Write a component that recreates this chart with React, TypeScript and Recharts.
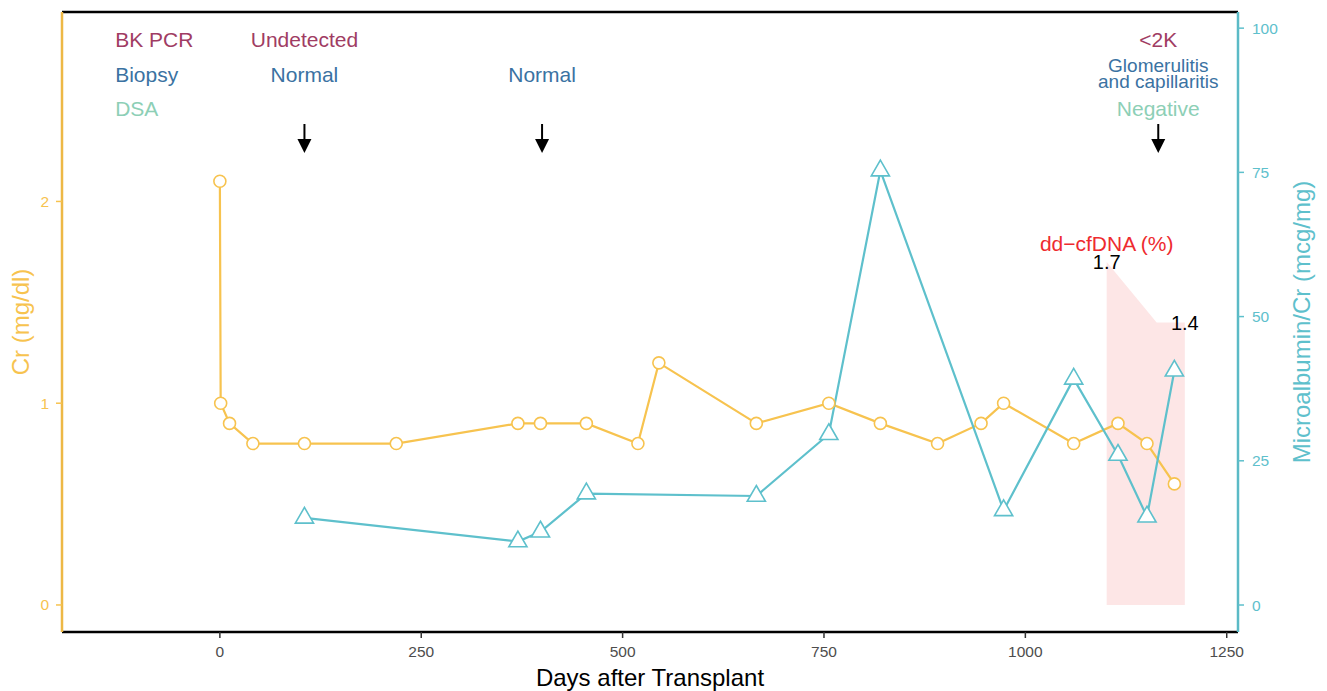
import React from 'react';
import { ComposedChart, Line, Area, XAxis, YAxis, ReferenceDot } from 'recharts';

// Cr (mg/dl) by day after transplant
const crDays = [0, 1, 12, 41, 105, 219, 370, 398, 455, 519, 545, 666, 756, 820, 891, 945, 973, 1060, 1115, 1151, 1185];
const crValues = [2.1, 1.0, 0.9, 0.8, 0.8, 0.8, 0.9, 0.9, 0.9, 0.8, 1.2, 0.9, 1.0, 0.9, 0.8, 0.9, 1.0, 0.8, 0.9, 0.8, 0.6];

// Microalbumin/Cr (mcg/mg)
const albDays = [105, 370, 398, 455, 666, 756, 820, 973, 1060, 1115, 1151, 1185];
const albValues = [15.1, 11.0, 12.7, 19.3, 18.9, 29.6, 75.3, 16.4, 39.2, 26.0, 15.3, 40.6];

// dd-cfDNA (%), drawn on the Cr scale
const cfDnaDays = [1101, 1163, 1198];
const cfDnaValues = [1.7, 1.4, 1.4];
const cfDnaLabels = ['1.7', '', '1.4'];

// biopsy annotations
const biopsyDays = [105, 400, 1165];
const bkPcr = ['Undetected', '', '<2K'];
const biopsyResult = ['Normal', 'Normal', ''];
const biopsyDetail = ['Glomerulitis', 'and capillaritis'];
const dsaResult = ['', '', 'Negative'];
const rowNames = ['BK PCR', 'Biopsy', 'DSA'];

const xTicks = [0, 250, 500, 750, 1000, 1250];
const crTicks = [0, 1, 2];
const albTicks = [0, 25, 50, 75, 100];

const ORANGE = '#F7C34F';
const TEAL = '#5EC0CC';
const BK = '#A03C63';
const BIOPSY = '#3A72A2';
const DSA = '#8DCFB6';
const FONT = '"Liberation Sans", Arial, Helvetica, sans-serif';

const crData = crDays.map((d, i) => ({ day: d, cr: crValues[i] }));
const albData = albDays.map((d, i) => ({ day: d, alb: albValues[i] }));
const cfData = cfDnaDays.map((d, i) => ({ day: d, cf: cfDnaValues[i] }));

const Tri = (p: any) => {
  const { cx, cy } = p;
  if (cx == null || cy == null) return null;
  return (
    <polygon
      key={`t${cx}`}
      points={`${cx},${cy - 10.5} ${cx + 9.1},${cy + 5.25} ${cx - 9.1},${cy + 5.25}`}
      fill="#fff"
      stroke={TEAL}
      strokeWidth={1.6}
    />
  );
};

const txt = (label: string, color: string, size: number, anchor = 'middle') => (p: any) => (
  <text x={p.cx} y={p.cy} fill={color} fontSize={size} textAnchor={anchor} fontFamily={FONT}>
    {label}
  </text>
);

const arrow = (p: any) => (
  <g>
    <line x1={p.cx} y1={p.cy} x2={p.cx} y2={p.cy + 17} stroke="#000" strokeWidth={2} />
    <polygon points={`${p.cx - 7},${p.cy + 15} ${p.cx + 7},${p.cy + 15} ${p.cx},${p.cy + 29}`} fill="#000" />
  </g>
);

const rotLabel = (value: string, color: string, dxFromAxis: number) => (props: any) => {
  const vb = props.viewBox || {};
  const x = vb.x + dxFromAxis;
  const y = vb.y + vb.height / 2;
  return (
    <text x={x} y={y} transform={`rotate(-90, ${x}, ${y})`} textAnchor="middle" dominantBaseline="central"
      fill={color} fontSize={24} fontFamily={FONT}>
      {value}
    </text>
  );
};

// levels on the Cr axis for annotation rows
const rowLevels = [2.764, 2.593, 2.423];

export default function App() {
  return (
    <div style={{ width: 1327, height: 691 }}>
      <style>{`body{margin:0}`}</style>
      <ComposedChart width={1327} height={691} margin={{ top: 11, right: 0, bottom: 0, left: 0 }}
        style={{ fontFamily: FONT }}>
        <XAxis
          dataKey="day"
          type="number"
          domain={[-196, 1264]}
          allowDataOverflow
          ticks={xTicks}
          height={59}
          tick={{ fill: '#4D4D4D', fontSize: 15.5 }}
          tickLine={{ stroke: '#333', strokeWidth: 1.5 }}
          tickSize={6}
          tickMargin={8}
          axisLine={{ stroke: '#000', strokeWidth: 2.5 }}
          label={{ value: 'Days after Transplant', position: 'insideBottom', offset: 5, fill: '#000', fontSize: 24 }}
        />
        <XAxis xAxisId="top" orientation="top" type="number" domain={[-196, 1264]} height={1}
          tick={false} tickLine={false} axisLine={{ stroke: '#000', strokeWidth: 2.5 }} />
        <YAxis
          yAxisId="left"
          type="number"
          domain={[-0.134, 2.939]}
          allowDataOverflow
          ticks={crTicks}
          width={62}
          tick={{ fill: ORANGE, fontSize: 15.5 }}
          tickLine={{ stroke: ORANGE, strokeWidth: 1.5 }}
          tickSize={6}
          tickMargin={7}
          axisLine={{ stroke: '#EDB845', strokeWidth: 2.5 }}
          label={{ content: rotLabel('Cr (mg/dl)', ORANGE, 20) }}
        />
        <YAxis
          yAxisId="right"
          orientation="right"
          type="number"
          domain={[-4.68, 102.8]}
          allowDataOverflow
          ticks={albTicks}
          width={89}
          tick={{ fill: TEAL, fontSize: 15.5 }}
          tickLine={{ stroke: TEAL, strokeWidth: 1.5 }}
          tickSize={6}
          tickMargin={8}
          axisLine={{ stroke: '#5BBAC6', strokeWidth: 2.5 }}
          label={{ content: rotLabel('Microalbumin/Cr (mcg/mg)', TEAL, 63) }}
        />

        <Area
          data={cfData}
          dataKey="cf"
          yAxisId="left"
          type="linear"
          baseValue={0}
          stroke="none"
          fill="#F03030"
          fillOpacity={0.12}
          isAnimationActive={false}
        />
        <Line
          data={crData}
          dataKey="cr"
          yAxisId="left"
          type="linear"
          stroke={ORANGE}
          strokeWidth={2.2}
          dot={{ r: 6, fill: '#fff', stroke: ORANGE, strokeWidth: 1.6 }}
          isAnimationActive={false}
        />
        <Line
          data={albData}
          dataKey="alb"
          yAxisId="right"
          type="linear"
          stroke={TEAL}
          strokeWidth={2.2}
          dot={Tri}
          isAnimationActive={false}
        />

        {cfDnaDays.map((d, i) =>
          cfDnaLabels[i] ? (
            <ReferenceDot key={`cf${i}`} x={d} y={i === 0 ? 1.665 : 1.363} yAxisId="left"
              shape={txt(cfDnaLabels[i], '#000', 20)} />
          ) : null
        )}
        <ReferenceDot x={cfDnaDays[0]} y={1.756} yAxisId="left" shape={txt('dd\u2212cfDNA (%)', '#EE2B2F', 21)} />

        {rowNames.map((n, i) => (
          <ReferenceDot key={n} x={-130} y={rowLevels[i]} yAxisId="left"
            shape={txt(n, [BK, BIOPSY, DSA][i], 21, 'start')} />
        ))}

        {biopsyDays.map((d, i) => (
          <React.Fragment key={`b${i}`}>
            {bkPcr[i] && <ReferenceDot x={d} y={rowLevels[0]} yAxisId="left" shape={txt(bkPcr[i], BK, 21)} />}
            {biopsyResult[i] && <ReferenceDot x={d} y={rowLevels[1]} yAxisId="left" shape={txt(biopsyResult[i], BIOPSY, 21)} />}
            {dsaResult[i] && <ReferenceDot x={d} y={rowLevels[2]} yAxisId="left" shape={txt(dsaResult[i], DSA, 21)} />}
            <ReferenceDot x={d} y={2.384} yAxisId="left" shape={arrow} />
          </React.Fragment>
        ))}
        <ReferenceDot x={biopsyDays[2]} y={2.643} yAxisId="left" shape={txt(biopsyDetail[0], BIOPSY, 19)} />
        <ReferenceDot x={biopsyDays[2]} y={2.56} yAxisId="left" shape={txt(biopsyDetail[1], BIOPSY, 19)} />
      </ComposedChart>
    </div>
  );
}
